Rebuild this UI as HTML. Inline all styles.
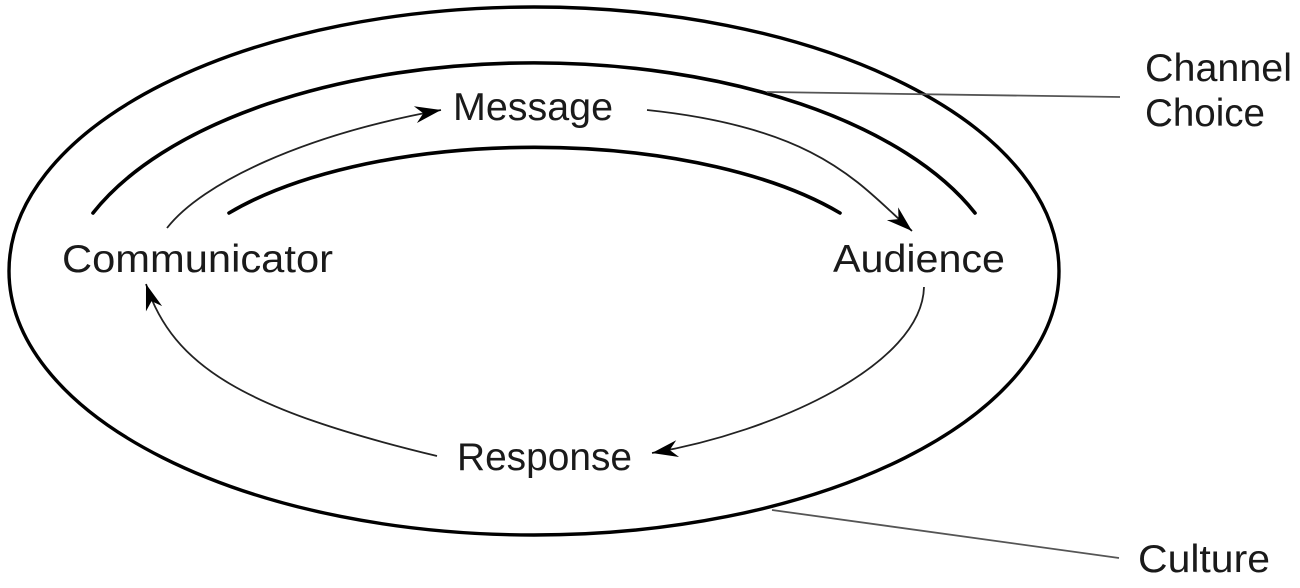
<!DOCTYPE html>
<html>
<head>
<meta charset="utf-8">
<style>
  html, body { margin: 0; padding: 0; background: #ffffff; }
  body { width: 1300px; height: 588px; overflow: hidden; }
  svg { display: block; }
  text { font-family: "Liberation Sans", Arial, sans-serif; font-size: 39px; fill: #1a1a1a; }
</style>
</head>
<body>
<svg width="1300" height="588" viewBox="0 0 1300 588" xmlns="http://www.w3.org/2000/svg">
  <defs>
    <marker id="ah" markerUnits="userSpaceOnUse" markerWidth="32" markerHeight="22" refX="0" refY="0" viewBox="-28 -11 30 22" orient="auto">
      <path d="M0,0 L-26,-8.5 L-18,0 L-26,8.5 Z" fill="#000"/>
    </marker>
  </defs>

  <!-- Outer ellipse (Culture) -->
  <ellipse cx="534" cy="271" rx="525" ry="264" fill="none" stroke="#000" stroke-width="3.4"/>

  <!-- Middle thick arc (Channel) -->
  <path d="M 93 213 A 474 237 0 0 1 975 213" fill="none" stroke="#000" stroke-width="3.6" stroke-linecap="round"/>

  <!-- Inner thick arc -->
  <path d="M 229 213 A 372 153 0 0 1 840 213" fill="none" stroke="#000" stroke-width="3.6" stroke-linecap="round"/>

  <!-- Thin arrows -->
  <path d="M 167 228 C 202 183, 303 135, 441 110" fill="none" stroke="#222" stroke-width="1.8" marker-end="url(#ah)"/>
  <path d="M 647 110 C 820 128, 860 185, 912 231" fill="none" stroke="#222" stroke-width="1.8" marker-end="url(#ah)"/>
  <path d="M 924 287 C 922 365, 775 432, 652 453" fill="none" stroke="#222" stroke-width="1.8" marker-end="url(#ah)"/>
  <path d="M 437 456 C 246 410, 173 367, 146 284" fill="none" stroke="#222" stroke-width="1.8" marker-end="url(#ah)"/>

  <!-- Leader lines -->
  <line x1="767" y1="92" x2="1120" y2="97" stroke="#555" stroke-width="1.8"/>
  <line x1="772" y1="510" x2="1119" y2="558" stroke="#555" stroke-width="1.8"/>

  <!-- Labels -->
  <text x="62" y="272" textLength="271" lengthAdjust="spacingAndGlyphs">Communicator</text>
  <text x="453" y="120" textLength="160" lengthAdjust="spacingAndGlyphs">Message</text>
  <text x="833" y="272" textLength="172" lengthAdjust="spacingAndGlyphs">Audience</text>
  <text x="457" y="470" textLength="175" lengthAdjust="spacingAndGlyphs">Response</text>
  <text x="1145" y="81" textLength="147" lengthAdjust="spacingAndGlyphs">Channel</text>
  <text x="1145" y="126" textLength="120" lengthAdjust="spacingAndGlyphs">Choice</text>
  <text x="1138" y="572" textLength="132" lengthAdjust="spacingAndGlyphs">Culture</text>
</svg>
</body>
</html>
